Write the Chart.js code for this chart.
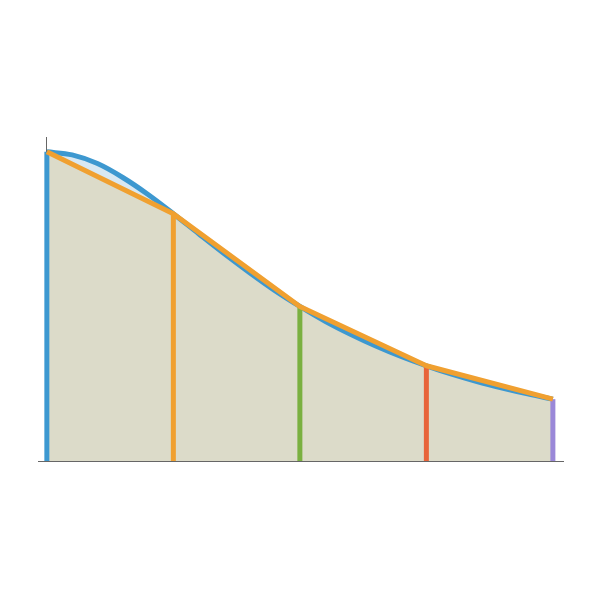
<!DOCTYPE html>
<html><head><meta charset="utf-8">
<script src="https://cdn.jsdelivr.net/npm/chart.js@4"></script>
<style>html,body{margin:0;padding:0;background:#fff}#wrap{width:600px;height:600px}</style>
</head><body><div id="wrap"><canvas id="c" width="600" height="600"></canvas></div>
<script>
const curveX = [0,0.1,0.2,0.3,0.4,0.5,0.6,0.7,0.8,0.9,1.0,1.1,1.2,1.3,1.4,1.5,1.6,1.7,1.8,1.9,2.0];
const curveY = [1,0.990,0.962,0.917,0.862,0.800,0.735,0.671,0.610,0.552,0.500,0.452,0.410,0.372,0.338,0.308,0.281,0.257,0.236,0.217,0.200];
const nodeX = [0,0.5,1.0,1.5,2.0];
const nodeY = [1,0.800,0.500,0.308,0.200];
const nodeColors = ['#3d98d0','#f0a030','#7ab040','#e8643a','#9a88d8'];

const curvePts = curveX.map((x,i)=>({x:x,y:curveY[i]}));
const trapPts = nodeX.map((x,i)=>({x:x,y:nodeY[i]}));
const datasets = [
  {data:curvePts, showLine:true, pointRadius:0, borderWidth:0, borderColor:'rgba(0,0,0,0)', backgroundColor:'#d8e8f2', fill:'origin', tension:0.4, cubicInterpolationMode:'monotone', order:10},
  {data:trapPts, showLine:true, pointRadius:0, borderWidth:0, borderColor:'rgba(0,0,0,0)', backgroundColor:'#dcdbc9', fill:'origin', tension:0, order:9},
  {data:curvePts, showLine:true, pointRadius:0, borderWidth:5, borderColor:'#3d98d0', fill:false, tension:0.4, cubicInterpolationMode:'monotone', order:8}
];
nodeX.forEach((x,i)=>{
  datasets.push({data:[{x:x,y:0},{x:x,y:nodeY[i]}], showLine:true, pointRadius:0, borderWidth:5, borderColor:nodeColors[i], borderCapStyle:'butt', fill:false, order:5-i+2});
});
datasets.push({data:trapPts, showLine:true, pointRadius:0, borderWidth:5, borderColor:'#f0a030', borderJoinStyle:'round', fill:false, tension:0, order:0});

new Chart(document.getElementById('c'), {
  type:'scatter',
  data:{datasets:datasets},
  options:{
    responsive:false, animation:false,
    layout:{padding:{left:38,right:37,top:137,bottom:131}},
    plugins:{legend:{display:false},tooltip:{enabled:false}},
    scales:{
      x:{type:'linear', min:-0.035, max:2.04, grid:{display:false}, ticks:{display:false}, border:{display:true,color:'#666',width:1}},
      y:{type:'linear', min:0, max:1.048, position:{x:0}, grid:{display:false}, ticks:{display:false}, border:{display:true,color:'#666',width:1}}
    }
  }
});
</script></body></html>
